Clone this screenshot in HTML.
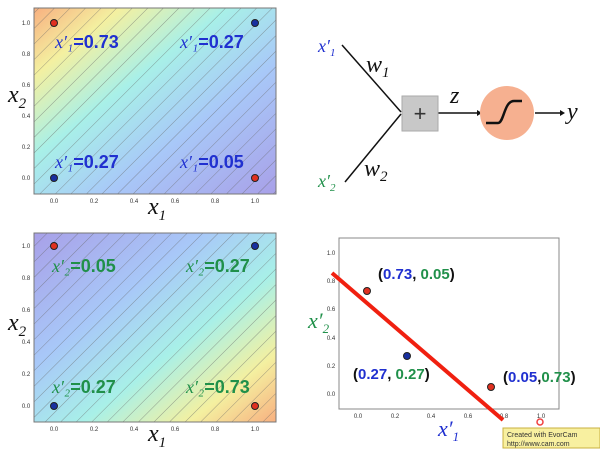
<!DOCTYPE html>
<html><head><style>
body{margin:0;background:#fff;width:600px;height:451px;overflow:hidden;font-family:"Liberation Sans",sans-serif}
</style></head><body>
<svg width="600" height="451" viewBox="0 0 600 451" xmlns="http://www.w3.org/2000/svg">
<defs>
<linearGradient id="g1" x1="0" y1="0" x2="1" y2="1">
<stop offset="0" stop-color="#f8b080"/><stop offset="0.18" stop-color="#f4f0a0"/><stop offset="0.4" stop-color="#a8f0e8"/><stop offset="0.65" stop-color="#a8c8f8"/><stop offset="1" stop-color="#a8a0e8"/>
</linearGradient>
<linearGradient id="g2" x1="0" y1="0" x2="1" y2="1">
<stop offset="0" stop-color="#a8a0e8"/><stop offset="0.35" stop-color="#a8c8f8"/><stop offset="0.6" stop-color="#a8f0e8"/><stop offset="0.82" stop-color="#f4f0a0"/><stop offset="1" stop-color="#f8b080"/>
</linearGradient>
<pattern id="lines" width="11" height="11" patternUnits="userSpaceOnUse" patternTransform="rotate(-45)">
<line x1="0" y1="0" x2="11" y2="0" stroke="#666" stroke-width="0.6"/>
</pattern>
</defs>
<g font-size="6" fill="#333" text-anchor="middle">
<rect x="34" y="8" width="242" height="186" fill="url(#g1)"/>
<rect x="34" y="8" width="242" height="186" fill="url(#lines)"/>
<rect x="34" y="8" width="242" height="186" fill="none" stroke="#777"/>
<text x="54" y="203">0.0</text><text x="94" y="203">0.2</text><text x="134" y="203">0.4</text><text x="175" y="203">0.6</text><text x="215" y="203">0.8</text><text x="255" y="203">1.0</text>
<text x="26" y="180">0.0</text><text x="26" y="149">0.2</text><text x="26" y="118">0.4</text><text x="26" y="87">0.6</text><text x="26" y="56">0.8</text><text x="26" y="25">1.0</text>
<rect x="34" y="233" width="242" height="189" fill="url(#g2)"/>
<rect x="34" y="233" width="242" height="189" fill="url(#lines)"/>
<rect x="34" y="233" width="242" height="189" fill="none" stroke="#777"/>
<text x="54" y="431">0.0</text><text x="94" y="431">0.2</text><text x="134" y="431">0.4</text><text x="175" y="431">0.6</text><text x="215" y="431">0.8</text><text x="255" y="431">1.0</text>
<text x="26" y="408">0.0</text><text x="26" y="376">0.2</text><text x="26" y="344">0.4</text><text x="26" y="312">0.6</text><text x="26" y="280">0.8</text><text x="26" y="248">1.0</text>
<rect x="339" y="238" width="220" height="171" fill="#fff" stroke="#888"/>
<text x="358" y="418">0.0</text><text x="395" y="418">0.2</text><text x="431" y="418">0.4</text><text x="468" y="418">0.6</text><text x="504" y="418">0.8</text><text x="541" y="418">1.0</text>
<text x="331" y="396">0.0</text><text x="331" y="368">0.2</text><text x="331" y="340">0.4</text><text x="331" y="311">0.6</text><text x="331" y="283">0.8</text><text x="331" y="255">1.0</text>
</g>
<g stroke="#222" stroke-width="1">
<circle cx="54" cy="23" r="3.5" fill="#e03020"/><circle cx="255" cy="23" r="3.5" fill="#1830a0"/>
<circle cx="54" cy="178" r="3.5" fill="#1830a0"/><circle cx="255" cy="178" r="3.5" fill="#e03020"/>
<circle cx="54" cy="246" r="3.5" fill="#e03020"/><circle cx="255" cy="246" r="3.5" fill="#1830a0"/>
<circle cx="54" cy="406" r="3.5" fill="#1830a0"/><circle cx="255" cy="406" r="3.5" fill="#e03020"/>
<circle cx="367" cy="291" r="3.5" fill="#e03020"/><circle cx="407" cy="356" r="3.5" fill="#1830a0"/><circle cx="491" cy="387" r="3.5" fill="#e03020"/>
</g>
<g font-family="Liberation Serif,serif" font-style="italic" font-size="24" fill="#111">
<text x="8" y="102">x<tspan font-size="15" dy="6">2</tspan></text>
<text x="148" y="214">x<tspan font-size="15" dy="6">1</tspan></text>
<text x="8" y="330">x<tspan font-size="15" dy="6">2</tspan></text>
<text x="148" y="441">x<tspan font-size="15" dy="6">1</tspan></text>
</g>
<g font-size="18" font-weight="bold" fill="#2030d0">
<text x="55" y="48"><tspan font-family="Liberation Serif,serif" font-style="italic" font-weight="normal">x′₁</tspan>=0.73</text>
<text x="180" y="48"><tspan font-family="Liberation Serif,serif" font-style="italic" font-weight="normal">x′₁</tspan>=0.27</text>
<text x="55" y="168"><tspan font-family="Liberation Serif,serif" font-style="italic" font-weight="normal">x′₁</tspan>=0.27</text>
<text x="180" y="168"><tspan font-family="Liberation Serif,serif" font-style="italic" font-weight="normal">x′₁</tspan>=0.05</text>
</g>
<g font-size="18" font-weight="bold" fill="#20904a">
<text x="52" y="272"><tspan font-family="Liberation Serif,serif" font-style="italic" font-weight="normal">x′₂</tspan>=0.05</text>
<text x="186" y="272"><tspan font-family="Liberation Serif,serif" font-style="italic" font-weight="normal">x′₂</tspan>=0.27</text>
<text x="52" y="393"><tspan font-family="Liberation Serif,serif" font-style="italic" font-weight="normal">x′₂</tspan>=0.27</text>
<text x="186" y="393"><tspan font-family="Liberation Serif,serif" font-style="italic" font-weight="normal">x′₂</tspan>=0.73</text>
</g>
<line x1="332" y1="273" x2="503" y2="420" stroke="#f02010" stroke-width="4"/>
<circle cx="540" cy="422" r="3" fill="none" stroke="#f04040" stroke-width="1.5"/>
<g font-size="15" font-weight="bold">
<text x="378" y="279" fill="#111">(<tspan fill="#2030d0">0.73</tspan>, <tspan fill="#20904a">0.05</tspan>)</text>
<text x="353" y="379" fill="#111">(<tspan fill="#2030d0">0.27</tspan>, <tspan fill="#20904a">0.27</tspan>)</text>
<text x="503" y="382" fill="#111">(<tspan fill="#2030d0">0.05</tspan>,<tspan fill="#20904a">0.73</tspan>)</text>
</g>
<text x="308" y="328" font-family="Liberation Serif,serif" font-style="italic" font-size="22" fill="#20904a">x′<tspan font-size="13" dy="5">2</tspan></text>
<text x="438" y="436" font-family="Liberation Serif,serif" font-style="italic" font-size="22" fill="#2030d0">x′<tspan font-size="13" dy="5">1</tspan></text>
<rect x="503" y="428" width="97" height="20" fill="#f8f0a0" stroke="#c8b040"/>
<text x="507" y="437" font-size="7" fill="#333">Created with EvorCam</text>
<text x="507" y="446" font-size="7" fill="#333">http://www.cam.com</text>
<g stroke="#111" stroke-width="1.5" fill="none">
<line x1="342" y1="45" x2="401" y2="112"/><line x1="345" y1="182" x2="401" y2="114"/>
<line x1="438" y1="113" x2="477" y2="113"/><line x1="535" y1="113" x2="560" y2="113"/>
</g>
<polygon points="477,110 482,113 477,116" fill="#111"/><polygon points="560,110 565,113 560,116" fill="#111"/>
<rect x="402" y="96" width="36" height="35" fill="#c8c8c8" stroke="#aaa"/>
<text x="420" y="121" font-size="22" text-anchor="middle" fill="#333">+</text>
<circle cx="507" cy="113" r="27" fill="#f6b090"/>
<path d="M486 123 L498 123 C504 123 504 101 514 101 L522 101" stroke="#111" stroke-width="2.5" fill="none"/>
<g font-family="Liberation Serif,serif" font-style="italic" fill="#111" font-size="24">
<text x="366" y="72">w<tspan font-size="15" dy="5">1</tspan></text>
<text x="364" y="176">w<tspan font-size="15" dy="5">2</tspan></text>
<text x="450" y="103">z</text>
<text x="567" y="119">y</text>
</g>
<text x="318" y="52" font-family="Liberation Serif,serif" font-style="italic" font-size="18" fill="#2030d0">x′<tspan font-size="11" dy="4">1</tspan></text>
<text x="318" y="187" font-family="Liberation Serif,serif" font-style="italic" font-size="18" fill="#20904a">x′<tspan font-size="11" dy="4">2</tspan></text>
</svg>
</body></html>
